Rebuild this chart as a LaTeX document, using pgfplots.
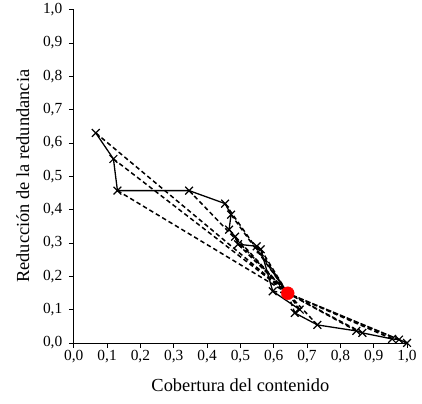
\documentclass[border=0pt]{standalone}
\usepackage{pgfplots}
\pgfplotsset{compat=1.18}
\usepackage{fontspec}
\setmainfont{Liberation Serif}
\begin{document}
\begin{tikzpicture}
\begin{axis}[
  scale only axis,
  width=335pt, height=335pt,
  axis lines*=left,
  xmin=0, xmax=1, ymin=0, ymax=1,
  xtick={0,0.1,...,1.01}, ytick={0,0.1,...,1.01},
  tick align=outside, major tick length=5pt,
  tick style={black, line width=0.8pt},
  axis line style={line width=0.8pt},
  /pgf/number format/.cd, use comma, fixed, fixed zerofill, precision=1, assume math mode=true,
  /pgfplots/.cd,
  tick label style={font=\fontsize{15.5}{16}\selectfont},
  yticklabel style={xshift=-3pt},
  xticklabel style={yshift=1pt},
  label style={font=\fontsize{18.5}{20}\selectfont},
  xlabel={Cobertura del contenido},
  ylabel={Reducción de la redundancia},
  xlabel style={yshift=-9pt},
  ylabel style={yshift=7pt},
  clip=false,
]
% dashed lines from each solution to the reference point
\addplot[black, line width=1.5pt, dash pattern=on 4.5pt off 3pt, empty line=jump] table {
x y
0.066 0.630
0.642 0.149

0.119 0.552
0.642 0.149

0.131 0.457
0.642 0.149

0.346 0.457
0.642 0.149

0.454 0.418
0.642 0.149

0.472 0.385
0.642 0.149

0.484 0.319
0.642 0.149

0.493 0.296
0.642 0.149

0.549 0.290
0.642 0.149

0.561 0.281
0.642 0.149

0.597 0.155
0.642 0.149

0.678 0.100
0.642 0.149

0.663 0.090
0.642 0.149

0.731 0.054
0.642 0.149

0.848 0.036
0.642 0.149

0.866 0.030
0.642 0.149

0.955 0.012
0.642 0.149

0.976 0.010
0.642 0.149

1.000 0.000
0.642 0.149
};
% solution path
\addplot[black, line width=1.3pt, mark=x, mark size=5.5pt, mark options={line width=1.2pt}] coordinates {
(0.066,0.630) (0.119,0.552) (0.131,0.457) (0.346,0.457) (0.454,0.418)
(0.472,0.385) (0.466,0.340) (0.484,0.319) (0.493,0.296) (0.549,0.290)
(0.561,0.281) (0.597,0.155) (0.678,0.100) (0.663,0.090) (0.731,0.054)
(0.848,0.036) (0.866,0.030) (0.955,0.012) (0.976,0.010) (1.000,0.000)
};
% reference point
\addplot[only marks, mark=*, mark size=6.5pt, color=red] coordinates {(0.642,0.149)};
\end{axis}
% white margins as in the original figure
\path (current bounding box.south west) ++(-13pt,-8pt) (current bounding box.north east) ++(2pt,0pt);
\end{tikzpicture}
\end{document}
